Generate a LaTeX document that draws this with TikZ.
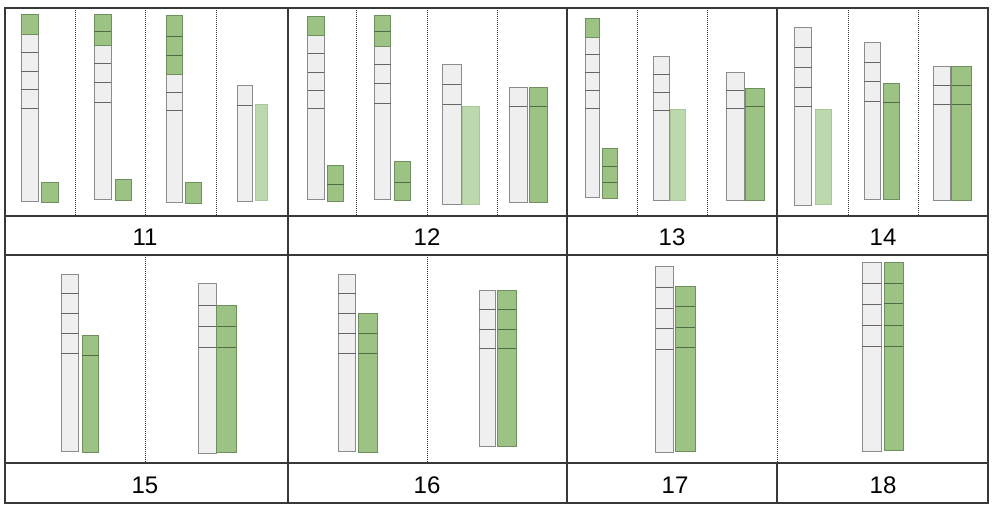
\documentclass[tikz,border=0pt]{standalone}
\usepackage{fontspec}
\setmainfont{Liberation Sans}
\definecolor{barfill}{HTML}{EFEFEF}
\definecolor{baredge}{HTML}{8C8C8C}
\definecolor{barsep}{HTML}{666666}
\definecolor{leaf}{HTML}{9DC384}
\definecolor{leafedge}{HTML}{6E8F5E}
\definecolor{leaflight}{HTML}{BCD8AD}
\definecolor{leaflightedge}{HTML}{A9C79A}
\definecolor{frame}{HTML}{383838}
\begin{document}
\begin{tikzpicture}[x=1pt,y=-1pt,
    graybar/.style={fill=barfill, draw=baredge, line width=1pt},
    greenbar/.style={fill=leaf, draw=leafedge, line width=1pt},
    lightbar/.style={fill=leaflight, draw=leaflightedge, line width=1pt},
    graysep/.style={draw=barsep, line width=1pt},
    greensep/.style={draw=leafedge!75!black, line width=1pt},
    cellline/.style={draw=frame, line width=1.2pt},
    dotline/.style={draw=frame, line width=0.9pt, dash pattern=on 1pt off 1pt},
    steplabel/.style={font=\fontsize{24}{24}\selectfont, inner sep=0pt}]

    \useasboundingbox (0,0) rectangle (1000,511);

    % Grid of the table
    \draw[cellline] (5,8) rectangle (988,503);
    \foreach \y in {216,255,463}
        \draw[cellline] (5,\y) -- (988,\y);
    \foreach \x in {288,567,777}
        \draw[cellline] (\x,8) -- (\x,255);
    \foreach \x in {288,567}
        \draw[cellline] (\x,255) -- (\x,503);
    \draw[cellline] (777,463) -- (777,503);

    % Dotted dividers
    \foreach \x in {75,145,216,356,427,497,637,707,848,918}
        \draw[dotline] (\x,8) -- (\x,216);
    \foreach \x in {145,427,777}
        \draw[dotline] (\x,255) -- (\x,463);

    % Gray stacks
    \foreach \xa/\xb/\ya/\yb in {21/38.3/14.7/201, 94.3/111/14.7/199.7, 166/182/15.7/202.7, 237/252.3/85.7/201,
        307.7/324/16.3/199.7, 374.3/390.7/15.7/199.7, 442.7/461/64/204.3, 509.3/527/87.3/202.3,
        585.3/599.7/19/197.3, 653.3/669.7/56.3/200.7, 726.3/744/72/200,
        794.7/811.7/28/205.3, 864/880.3/42.3/199.3, 933.3/950.7/66/200.3,
        61/78.7/274/451.7, 198.7/216.7/283.7/453.3, 338.3/355.7/274/451, 479.3/495.7/290/446.7,
        655.7/673/266.3/452.3, 862.3/881/262.3/451.7}
        \draw[graybar] (\xa,\ya) rectangle (\xb,\yb);

    \foreach \xa/\xb/\y in {21/38.3/52.3, 21/38.3/71, 21/38.3/89.7, 21/38.3/108.3,
        94.3/111/63.3, 94.3/111/82.7, 94.3/111/102.3,
        166/182/92, 166/182/110.3, 237/252.3/105,
        307.7/324/53.7, 307.7/324/72, 307.7/324/90.3, 307.7/324/108.7,
        374.3/390.7/64.3, 374.3/390.7/83.7, 374.3/390.7/103,
        442.7/461/84.3, 442.7/461/104.3, 509.3/527/106.7,
        585.3/599.7/55, 585.3/599.7/72.7, 585.3/599.7/90.7, 585.3/599.7/108.3,
        653.3/669.7/74.3, 653.3/669.7/92.3, 653.3/669.7/110,
        726.3/744/90, 726.3/744/108.3,
        794.7/811.7/47.7, 794.7/811.7/67.3, 794.7/811.7/87, 794.7/811.7/106.7,
        864/880.3/62, 864/880.3/81.7, 864/880.3/101,
        933.3/950.7/85.3, 933.3/950.7/104.3,
        61/78.7/293.7, 61/78.7/313.3, 61/78.7/333, 61/78.7/353,
        198.7/216.7/305, 198.7/216.7/326.3, 198.7/216.7/347.3,
        338.3/355.7/293.7, 338.3/355.7/313.3, 338.3/355.7/333, 338.3/355.7/353,
        479.3/495.7/309.3, 479.3/495.7/329, 479.3/495.7/348.7,
        655.7/673/287.3, 655.7/673/308, 655.7/673/328.3, 655.7/673/349,
        862.3/881/283.3, 862.3/881/304.3, 862.3/881/325.7, 862.3/881/346.7}
        \draw[graysep] (\xa,\y) -- (\xb,\y);

    % Green blocks
    \foreach \xa/\xb/\ya/\yb in {21/38.3/14.7/34.3, 41.3/58.7/182/202,
        94.3/111/14.7/45.7, 115/131/179.3/200.7,
        166/182/15.7/74, 185.3/201.7/182.7/203.7,
        307.7/324/16.3/35.7, 327.3/343.7/165.3/201,
        374.3/390.7/15.7/46.3, 394.7/410.3/161.7/200.7,
        529.7/547.3/87.3/202.3,
        585.3/599.7/19/38, 602.7/617.3/148/198.7,
        745.3/764.3/88/200,
        883/899.7/83.3/199.7, 951.7/971/66/200.3,
        82/98.7/335.7/452.7, 216.7/236.3/305.3/452.3,
        358.7/377/313/452, 497.7/516/290/446.7,
        675.7/695/286/451.7, 884.3/903.3/262/450.7}
        \draw[greenbar] (\xa,\ya) rectangle (\xb,\yb);

    \foreach \xa/\xb/\y in {94.3/111/31.3, 166/182/36.7, 166/182/55.3,
        327.3/343.7/184.3, 374.3/390.7/32, 394.7/410.3/182.3, 529.7/547.3/106,
        602.7/617.3/166.7, 602.7/617.3/182.7, 745.3/764.3/106.7,
        883/899.7/102.3, 951.7/971/85.7, 951.7/971/104.7,
        82/98.7/355, 216.7/236.3/326.3, 216.7/236.3/347.3,
        358.7/377/333.3, 358.7/377/353,
        497.7/516/309.3, 497.7/516/329, 497.7/516/348.5,
        675.7/695/306.7, 675.7/695/327.3, 675.7/695/347.7,
        884.3/903.3/283, 884.3/903.3/303.7, 884.3/903.3/325, 884.3/903.3/346}
        \draw[greensep] (\xa,\y) -- (\xb,\y);

    % Light green blocks
    \foreach \xa/\xb/\ya/\yb in {255/267.7/104.3/200.7, 462.3/479.7/106.7/204,
        670/685.7/109.7/200, 815/831.7/109.7/204.7}
        \draw[lightbar] (\xa,\ya) rectangle (\xb,\yb);

    % Step numbers
    \node[steplabel] (s11) at (145,237) {11};
    \node[steplabel] (s12) at (427,237) {12};
    \node[steplabel] (s13) at (672,237) {13};
    \node[steplabel] (s14) at (883,237) {14};
    \node[steplabel] (s15) at (145,485) {15};
    \node[steplabel] (s16) at (427,485) {16};
    \node[steplabel] (s17) at (675,485) {17};
    \node[steplabel] (s18) at (883,485) {18};

\end{tikzpicture}
\end{document}
